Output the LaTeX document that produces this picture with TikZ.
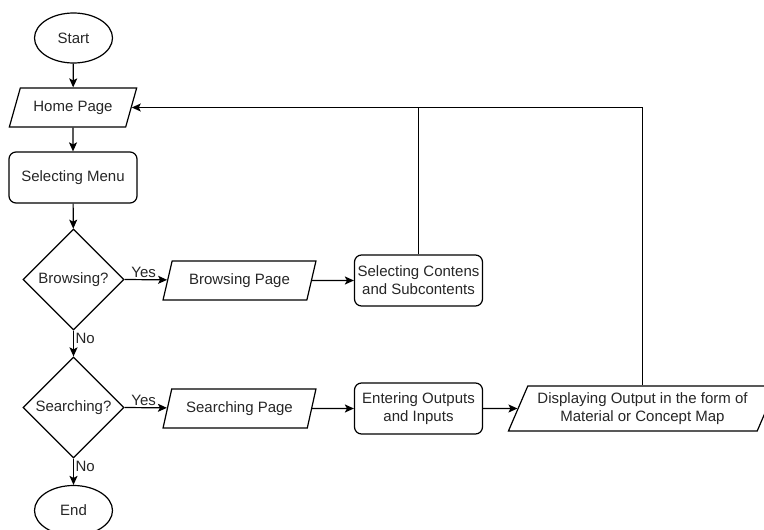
\documentclass[tikz,border=0pt]{standalone}
\usepackage{fontspec}
\setmainfont{Liberation Sans}
\usetikzlibrary{shapes.geometric,arrows.meta}
\begin{document}
\begin{tikzpicture}[x=1pt,y=-1pt,
  every node/.style={font=\fontsize{15}{18}\selectfont, text=black!85},
  base/.style={draw, line width=1.2pt, inner sep=0pt, align=center},
  term/.style={base, ellipse, minimum width=78pt, minimum height=50pt},
  proc/.style={base, rectangle, rounded corners=7pt, minimum width=128pt, minimum height=51pt},
  decide/.style={base, diamond, minimum width=101pt, minimum height=101pt},
  io/.style={base, trapezium, trapezium stretches=true},
  conn/.style={line width=1.2pt, -{Stealth[length=9pt,width=8pt,inset=2pt]}},
  link/.style={line width=1.2pt},
  lbl/.style={inner sep=1.5pt}
]
\path[use as bounding box] (0,0) rectangle (764,530);

\node[term] (start) at (73.5,38) {Start};
\node[io, trapezium left angle=58.4, trapezium right angle=121.6,
      minimum width=128pt, minimum height=39pt] (home) at (73,107.5) {Home Page};
\node[proc] (menu) at (73,177.5) {Selecting Menu};
\node[decide] (browsing) at (73.5,279.5) {Browsing?};
\node[io, trapezium left angle=64, trapezium right angle=116,
      minimum width=153pt, minimum height=39pt] (bpage) at (239.5,280.5) {Browsing Page};
\node[proc] (selcont) at (418.5,280.5) {Selecting Contens\\and Subcontents};
\node[decide] (searching) at (73.5,407.5) {Searching?};
\node[io, trapezium left angle=64, trapezium right angle=116,
      minimum width=153pt, minimum height=39pt] (spage) at (239.5,408.5) {Searching Page};
\node[proc] (enter) at (418.5,408.5) {Entering Outputs\\and Inputs};
\node[io, trapezium left angle=61, trapezium right angle=119,
      minimum width=269pt, minimum height=45pt] (display) at (642.5,408.5) {Displaying Output in the form of\\Material or Concept Map};
\node[term] (end) at (73.5,510.5) {End};

\coordinate (join) at (selcont.north |- home.east);

\draw[conn] (start) -- (home);
\draw[conn] (home) -- (menu);
\draw[conn] (menu) -- (browsing);
\draw[conn] (browsing.east) -- node[pos=0.45, above, lbl] {Yes} (bpage);
\draw[conn] (bpage) -- (selcont);
\draw[conn] (browsing.south) -- node[pos=0.3, right, lbl] {No} (searching.north);
\draw[conn] (searching.east) -- node[pos=0.45, above, lbl] {Yes} (spage);
\draw[conn] (spage) -- (enter);
\draw[conn] (enter) -- (display);
\draw[conn] (searching.south) -- node[pos=0.3, right, lbl] {No} (end.north);
\draw[conn] (display.north) |- (home.east);
\draw[link] (selcont.north) -- (join);
\end{tikzpicture}
\end{document}
